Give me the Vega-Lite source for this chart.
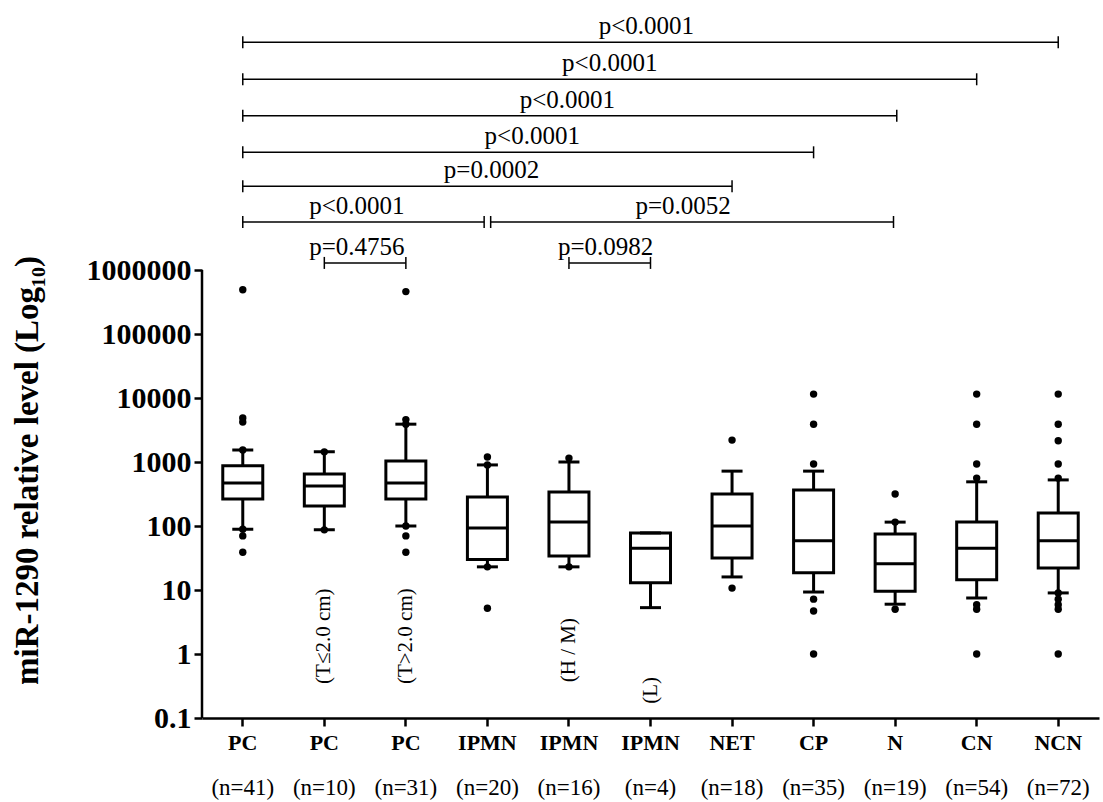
{
"$schema":"https://vega.github.io/schema/vega-lite/v6.json",
"autosize":"none","width":897,"height":704,
"padding":{"left":202,"top":14,"right":4,"bottom":84},
"background":"white",
"config":{"view":{"stroke":null},"font":"Liberation Serif"},
"datasets":{
"boxes":[
{"g":"PC (n=41)","lo":89,"q1":263,"med":468,"q3":870,"hi":1540},
{"g":"PC (n=10)","lo":87,"q1":205,"med":420,"q3":650,"hi":1440},
{"g":"PC (n=31)","lo":100,"q1":263,"med":468,"q3":1040,"hi":3900},
{"g":"IPMN (n=20)","lo":23,"q1":30,"med":93,"q3":283,"hi":900},
{"g":"IPMN (n=16)","lo":23,"q1":34,"med":115,"q3":340,"hi":1000},
{"g":"IPMN (n=4)","lo":5.3,"q1":13,"med":45,"q3":78,"hi":78},
{"g":"NET (n=18)","lo":16,"q1":31.6,"med":100,"q3":316,"hi":720},
{"g":"CP (n=35)","lo":9.3,"q1":18.6,"med":59,"q3":365,"hi":720},
{"g":"N (n=19)","lo":6,"q1":9.6,"med":25.6,"q3":75,"hi":115},
{"g":"CN (n=54)","lo":7.5,"q1":14.5,"med":45,"q3":115,"hi":490},
{"g":"NCN (n=72)","lo":9,"q1":22,"med":59,"q3":160,"hi":525}
],
"pts":[
{"g":"PC (n=41)","v":490000},{"g":"PC (n=41)","v":4870},{"g":"PC (n=41)","v":4200},{"g":"PC (n=41)","v":1540},{"g":"PC (n=41)","v":89},{"g":"PC (n=41)","v":70},{"g":"PC (n=41)","v":39},
{"g":"PC (n=10)","v":1440},{"g":"PC (n=10)","v":87},
{"g":"PC (n=31)","v":460000},{"g":"PC (n=31)","v":4600},{"g":"PC (n=31)","v":3900},{"g":"PC (n=31)","v":100},{"g":"PC (n=31)","v":70},{"g":"PC (n=31)","v":39},
{"g":"IPMN (n=20)","v":1200},{"g":"IPMN (n=20)","v":900},{"g":"IPMN (n=20)","v":23},{"g":"IPMN (n=20)","v":5.2},
{"g":"IPMN (n=16)","v":1150},{"g":"IPMN (n=16)","v":23},
{"g":"NET (n=18)","v":2200},{"g":"NET (n=18)","v":10.7},
{"g":"CP (n=35)","v":11500},{"g":"CP (n=35)","v":3900},{"g":"CP (n=35)","v":930},{"g":"CP (n=35)","v":7.2},{"g":"CP (n=35)","v":4.7},{"g":"CP (n=35)","v":1},
{"g":"N (n=19)","v":316},{"g":"N (n=19)","v":115},{"g":"N (n=19)","v":5},
{"g":"CN (n=54)","v":11500},{"g":"CN (n=54)","v":3900},{"g":"CN (n=54)","v":930},{"g":"CN (n=54)","v":560},{"g":"CN (n=54)","v":5.9},{"g":"CN (n=54)","v":5},{"g":"CN (n=54)","v":1},
{"g":"NCN (n=72)","v":11500},{"g":"NCN (n=72)","v":3900},{"g":"NCN (n=72)","v":2150},{"g":"NCN (n=72)","v":930},{"g":"NCN (n=72)","v":560},{"g":"NCN (n=72)","v":9},{"g":"NCN (n=72)","v":7.2},{"g":"NCN (n=72)","v":5.9},{"g":"NCN (n=72)","v":5},{"g":"NCN (n=72)","v":1}
],
"notes":[
{"g":"PC (n=10)","v":1.9,"t":"(T≤2.0 cm)"},
{"g":"PC (n=31)","v":1.9,"t":"(T>2.0 cm)"},
{"g":"IPMN (n=16)","v":1.15,"t":"(H / M)"},
{"g":"IPMN (n=4)","v":0.27,"t":"(L)"}
],
"sig":[
{"a":0,"b":10,"m":4.95,"y":3630000000,"t":"p<0.0001"},
{"a":0,"b":9,"m":4.5,"y":955000000,"t":"p<0.0001"},
{"a":0,"b":8.02,"m":3.98,"y":257000000,"t":"p<0.0001"},
{"a":0,"b":7,"m":3.55,"y":69000000,"t":"p<0.0001"},
{"a":0,"b":6,"m":3.05,"y":20400000,"t":"p=0.0002"},
{"a":0,"b":2.96,"m":1.4,"y":5620000,"t":"p<0.0001"},
{"a":3.04,"b":7.98,"m":5.4,"y":5620000,"t":"p=0.0052"},
{"a":1,"b":2,"m":1.4,"y":1290000,"t":"p=0.4756"},
{"a":4,"b":5,"m":4.45,"y":1290000,"t":"p=0.0982"}
],
"axisline":[{"x":-0.5,"y":0.1,"y2":1000000}]
},
"layer":[
{
"data":{"name":"boxes"},
"encoding":{
"x":{"field":"g","type":"nominal","sort":null,"scale":{"paddingInner":0,"paddingOuter":0},"title":null,"axis":null},
"y":{"type":"quantitative"}
},
"layer":[
{"mark":{"type":"rule","color":"black","strokeWidth":3},
 "encoding":{"x":{"field":"g","type":"nominal","sort":null,"title":null,"axis":{"labelExpr":"split(datum.value,' ')[0]","labelAngle":0,"labelFont":"Liberation Serif","labelFontWeight":"bold","labelFontSize":22,"labelColor":"black","labelPadding":6,"ticks":true,"tickSize":8,"tickWidth":2.5,"tickColor":"black","domainColor":"black","domainWidth":2.5}},
  "y":{"field":"lo","type":"quantitative","scale":{"type":"log","domain":[0.1,10000000000]},
   "axis":{"values":[0.1,1,10,100,1000,10000,100000,1000000],"labelExpr":"datum.value<1?'0.1':format(datum.value,'d')","grid":false,"domain":false,"tickColor":"black","tickWidth":2.5,"tickSize":8,"labelFont":"Liberation Serif","labelFontWeight":"bold","labelFontSize":30,"labelColor":"black","labelPadding":3,
   "title":"miR-1290 relative level (Log₁₀)","titleFont":"Liberation Serif","titleFontWeight":"bold","titleFontSize":33,"titleColor":"black","titleAngle":-90,"titleX":-175,"titleY":456,"titleAlign":"center","titleBaseline":"middle"}},
  "y2":{"field":"hi"}}},
{"mark":{"type":"bar","fill":"white","stroke":"black","strokeWidth":3,"size":40},
 "encoding":{"y":{"field":"q1","type":"quantitative"},"y2":{"field":"q3"}}},
{"mark":{"type":"tick","orient":"horizontal","color":"black","opacity":1,"thickness":3,"size":40},
 "encoding":{"y":{"field":"med","type":"quantitative"}}},
{"mark":{"type":"tick","orient":"horizontal","color":"black","opacity":1,"thickness":3,"size":21},
 "encoding":{"y":{"field":"lo","type":"quantitative"}}},
{"mark":{"type":"tick","orient":"horizontal","color":"black","opacity":1,"thickness":3,"size":21},
 "encoding":{"y":{"field":"hi","type":"quantitative"},
  "x":{"field":"g","type":"nominal","sort":null,"title":null,"axis":{"orient":"bottom","offset":40,"labelExpr":"split(datum.value,' ')[1]","labelAngle":0,"labelFont":"Liberation Serif","labelFontSize":23,"labelColor":"black","labelPadding":18,"ticks":false,"domain":false}}}},
{"data":{"name":"pts"},"mark":{"type":"circle","color":"black","opacity":1,"size":55},
 "encoding":{"y":{"field":"v","type":"quantitative"}}},
{"data":{"name":"notes"},"mark":{"type":"text","angle":270,"font":"Liberation Serif","fontSize":21,"color":"black","align":"center","baseline":"middle"},
 "encoding":{"y":{"field":"v","type":"quantitative"},"text":{"field":"t"}}}
],
"resolve":{"axis":{"x":"independent"}}
},
{
"layer":[
{"data":{"name":"axisline"},"mark":{"type":"rule","color":"black","strokeWidth":2.5},
 "encoding":{"x":{"field":"x","type":"quantitative","scale":{"domain":[-0.5,10.5],"nice":false,"zero":false},"axis":null},
  "y":{"field":"y","type":"quantitative"},"y2":{"field":"y2"}}},
{"data":{"name":"sig"},"mark":{"type":"rule","color":"black","strokeWidth":1.5},
 "encoding":{"x":{"field":"a","type":"quantitative"},"x2":{"field":"b"},"y":{"field":"y","type":"quantitative"}}},
{"data":{"name":"sig"},"transform":[{"fold":["a","b"],"as":["k","xe"]}],"mark":{"type":"tick","orient":"vertical","color":"black","opacity":1,"thickness":1.5,"size":12},
 "encoding":{"x":{"field":"xe","type":"quantitative"},"y":{"field":"y","type":"quantitative"}}},
{"data":{"name":"sig"},"mark":{"type":"text","font":"Liberation Serif","fontSize":25,"color":"black","baseline":"bottom","align":"center","dy":-3},
 "encoding":{"x":{"field":"m","type":"quantitative"},"y":{"field":"y","type":"quantitative"},"text":{"field":"t"}}}
]
}
],
"resolve":{"scale":{"x":"independent"}}
}
